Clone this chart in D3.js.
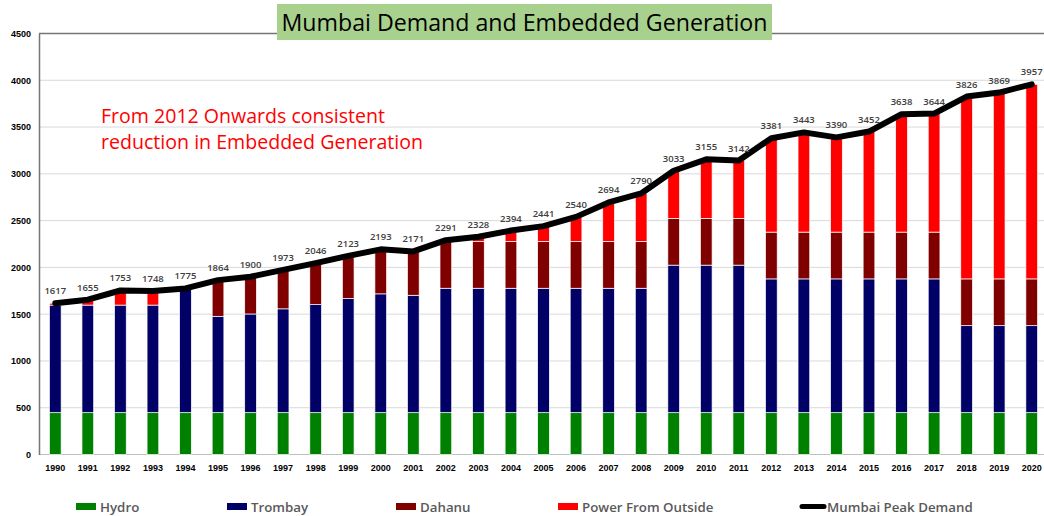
<!DOCTYPE html>
<html>
<head>
<meta charset="utf-8">
<script src="https://cdn.jsdelivr.net/npm/d3@7"></script>
<style>
  html, body { margin: 0; padding: 0; background: #fff; }
  svg { display: block; }
</style>
</head>
<body>
<svg id="chart" width="1044" height="516"></svg>
<script>
// ---- data (MW) ----
const years = ["1990","1991","1992","1993","1994","1995","1996","1997","1998","1999","2000",
  "2001","2002","2003","2004","2005","2006","2007","2008","2009","2010",
  "2011","2012","2013","2014","2015","2016","2017","2018","2019","2020"];

const hydro = [447,447,447,447,447,447,447,447,447,447,447,
  447,447,447,447,447,447,447,447,447,447,
  447,447,447,447,447,447,447,447,447,447];

const trombay = [1150,1150,1150,1150,1328,1030,1055,1110,1155,1220,1270,
  1255,1330,1330,1330,1330,1330,1330,1330,1577,1577,
  1577,1430,1430,1430,1430,1430,1430,930,930,930];

const dahanu = [0,0,0,0,0,387,398,416,444,456,476,
  469,500,500,500,500,500,500,500,500,500,
  500,500,500,500,500,500,500,500,500,500];

const outside = [20,58,156,151,0,0,0,0,0,0,0,
  0,14,51,117,164,263,417,513,509,631,
  618,1004,1066,1013,1075,1261,1267,1949,1992,2080];

const demand = [1617,1655,1753,1748,1775,1864,1900,1973,2046,2123,2193,
  2171,2291,2328,2394,2441,2540,2694,2790,3033,3155,
  3142,3381,3443,3390,3452,3638,3644,3826,3869,3957];

const yTicks = [0,500,1000,1500,2000,2500,3000,3500,4000,4500];

const seriesNames = ["Hydro","Trombay","Dahanu","Power From Outside"];
const seriesColors = ["#008000","#000066","#800000","#ff0000"];
const lineName = "Mumbai Peak Demand";

const titleText = "Mumbai Demand and Embedded Generation";
const noteLines = ["From 2012 Onwards consistent", "reduction in Embedded Generation"];

// ---- layout ----
const W = 1044, H = 516;
const plot = { left: 39, right: 1048, top: 33.5, bottom: 454.5 };
const axisFont = "'Liberation Sans', Arial, sans-serif";
const textFont = "'Open Sans', 'Noto Sans', sans-serif";

const svg = d3.select("#chart");
svg.append("rect").attr("width", W).attr("height", H).attr("fill", "#fff");

const x = d3.scaleBand().domain(years)
  .range([plot.left, plot.right])
  .paddingInner(0.64).paddingOuter(0.32);
const cx = d => x(d) + x.bandwidth() / 2;

const y = d3.scaleLinear().domain([0, 4500]).range([plot.bottom, plot.top]);

// gridlines
svg.append("g")
  .selectAll("line")
  .data(yTicks.filter(t => t > 0 && t < 4500))
  .join("line")
  .attr("x1", plot.left).attr("x2", W)
  .attr("y1", d => y(d)).attr("y2", d => y(d))
  .attr("stroke", "#d9d9d9").attr("stroke-width", 1);

// baseline and top border
svg.append("line")
  .attr("x1", plot.left).attr("x2", W)
  .attr("y1", y(0)).attr("y2", y(0))
  .attr("stroke", "#bfbfbf").attr("stroke-width", 1);
svg.append("line")
  .attr("x1", plot.left).attr("x2", W)
  .attr("y1", y(4500)).attr("y2", y(4500))
  .attr("stroke", "#767676").attr("stroke-width", 1.5);

// y axis
const yAxis = svg.append("g")
  .attr("transform", `translate(${plot.left},0)`)
  .call(d3.axisLeft(y).tickValues(yTicks).tickSize(0).tickPadding(8).tickFormat(d3.format("d")));
yAxis.select(".domain").attr("stroke", "#767676").attr("stroke-width", 1.5);
yAxis.selectAll("text")
  .attr("font-family", axisFont).attr("font-size", 9).attr("font-weight", "bold").attr("fill", "#000");

// x axis
const xAxis = svg.append("g")
  .attr("transform", `translate(0,${plot.bottom})`)
  .call(d3.axisBottom(x).tickSize(0).tickPadding(10));
xAxis.select(".domain").remove();
xAxis.selectAll("text")
  .attr("font-family", axisFont).attr("font-size", 9).attr("font-weight", "bold").attr("fill", "#000");

// stacked bars
const rows = years.map((yr, i) => ({
  year: yr,
  "Hydro": hydro[i],
  "Trombay": trombay[i],
  "Dahanu": dahanu[i],
  "Power From Outside": outside[i]
}));
const stacked = d3.stack().keys(seriesNames)(rows);
const color = d3.scaleOrdinal().domain(seriesNames).range(seriesColors);

svg.append("g")
  .selectAll("g")
  .data(stacked)
  .join("g")
  .attr("fill", s => color(s.key))
  .selectAll("rect")
  .data(s => s.filter(d => d[1] > d[0]))
  .join("rect")
  .attr("x", d => x(d.data.year))
  .attr("width", x.bandwidth())
  .attr("y", d => y(d[1]))
  .attr("height", d => y(d[0]) - y(d[1]))
  .attr("stroke", "#fff").attr("stroke-width", 0.7);

// demand line
const line = d3.line()
  .x((d, i) => cx(years[i]))
  .y(d => y(d));
svg.append("path")
  .datum(demand)
  .attr("d", line)
  .attr("fill", "none")
  .attr("stroke", "#000")
  .attr("stroke-width", 6)
  .attr("stroke-linejoin", "round")
  .attr("stroke-linecap", "round");

// demand labels
svg.append("g")
  .selectAll("text")
  .data(demand)
  .join("text")
  .attr("x", (d, i) => cx(years[i]))
  .attr("y", d => y(d) - 9)
  .attr("text-anchor", "middle")
  .attr("font-family", textFont)
  .attr("font-size", 9.5)
  .attr("font-weight", 600)
  .attr("fill", "#404040")
  .text(d => d);

// title
svg.append("rect")
  .attr("x", 277).attr("y", 4).attr("width", 495).attr("height", 36)
  .attr("fill", "#a9d18e");
svg.append("text")
  .attr("x", 524.5).attr("y", 31)
  .attr("text-anchor", "middle")
  .attr("font-family", textFont)
  .attr("font-size", 24)
  .attr("fill", "#000")
  .attr("textLength", 486)
  .attr("lengthAdjust", "spacingAndGlyphs")
  .text(titleText);

// annotation
const noteWidths = [284, 322];
svg.append("g")
  .selectAll("text")
  .data(noteLines)
  .join("text")
  .attr("x", 101)
  .attr("y", (d, i) => 123.3 + i * 26)
  .attr("font-family", textFont)
  .attr("font-size", 19.5)
  .attr("fill", "#ff0000")
  .attr("textLength", (d, i) => noteWidths[i])
  .attr("lengthAdjust", "spacingAndGlyphs")
  .text(d => d);

// legend
const legendX = [76, 227, 396, 558, 799];
const legend = svg.append("g");
seriesNames.forEach((name, i) => {
  const g = legend.append("g").attr("transform", `translate(${legendX[i]},0)`);
  g.append("rect").attr("x", 0).attr("y", 503).attr("width", 20).attr("height", 7)
    .attr("fill", seriesColors[i]);
  g.append("text").attr("x", 24).attr("y", 512)
    .attr("font-family", textFont).attr("font-size", 13.3).attr("font-weight", 600)
    .attr("fill", "#595959").text(name);
});
{
  const g = legend.append("g").attr("transform", `translate(${legendX[4]},0)`);
  g.append("line").attr("x1", 3).attr("x2", 25).attr("y1", 506.5).attr("y2", 506.5)
    .attr("stroke", "#000").attr("stroke-width", 5).attr("stroke-linecap", "round");
  g.append("text").attr("x", 28).attr("y", 512)
    .attr("font-family", textFont).attr("font-size", 13.3).attr("font-weight", 600)
    .attr("fill", "#595959").text(lineName);
}
</script>
</body>
</html>
